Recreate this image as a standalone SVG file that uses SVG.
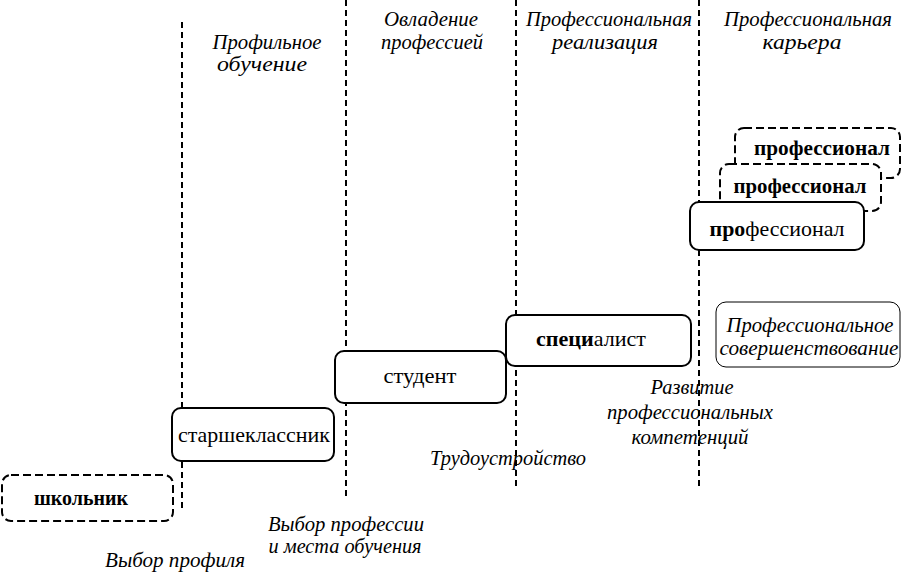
<svg xmlns="http://www.w3.org/2000/svg" width="902" height="572" viewBox="0 0 902 572">
<style>
.lbl{font-style:italic;font-size:21px;fill:#000;text-anchor:middle}
.nt{font-size:22px;fill:#000;text-anchor:middle}
.b{font-weight:bold}
.box{fill:#fff;stroke:#000;stroke-width:2}
.dbox{fill:#fff;stroke:#000;stroke-width:2;stroke-dasharray:8 4}
.thin{fill:#fff;stroke:#000;stroke-width:1}
.vl{stroke:#000;stroke-width:2;stroke-dasharray:6 4;fill:none}
</style>
<rect width="902" height="572" fill="#fff"/>
<g id="connectors">
<line class="vl" x1="182" y1="22" x2="182" y2="512" stroke-width="1.5"/>
<line class="vl" x1="346" y1="0" x2="346" y2="496"/>
<line class="vl" x1="516" y1="0" x2="516" y2="490"/>
<line class="vl" x1="699" y1="0" x2="699" y2="490"/>
</g>
<g id="all-text" font-family="Liberation Serif, Times New Roman, serif">
<g id="headers">
<text class="lbl" font-family="Liberation Serif" x="267" y="49" textLength="109" lengthAdjust="spacingAndGlyphs">Профильное</text>
<text class="lbl" font-family="Liberation Serif" x="262" y="71" textLength="90" lengthAdjust="spacingAndGlyphs">обучение</text>
<text class="lbl" font-family="Liberation Serif" x="431" y="26" textLength="94" lengthAdjust="spacingAndGlyphs">Овладение</text>
<text class="lbl" font-family="Liberation Serif" x="432" y="49" textLength="102" lengthAdjust="spacingAndGlyphs">профессией</text>
<text class="lbl" font-family="Liberation Serif" x="609" y="26" textLength="166" lengthAdjust="spacingAndGlyphs">Профессиональная</text>
<text class="lbl" font-family="Liberation Serif" x="605" y="49" textLength="106" lengthAdjust="spacingAndGlyphs">реализация</text>
<text class="lbl" font-family="Liberation Serif" x="808" y="26" textLength="168" lengthAdjust="spacingAndGlyphs">Профессиональная</text>
<text class="lbl" font-family="Liberation Serif" x="802" y="49" textLength="79" lengthAdjust="spacingAndGlyphs">карьера</text>
</g>
<g id="node-shkolnik">
<rect class="dbox" x="2" y="475" width="171" height="46" rx="9"/>
<text class="nt b" font-family="Liberation Serif" x="81" y="505" textLength="94" lengthAdjust="spacingAndGlyphs">школьник</text>
</g>
<g id="node-starsheklassnik">
<rect class="box" x="172" y="408" width="162" height="53" rx="9"/>
<text class="nt" font-family="Liberation Serif" x="254" y="442" textLength="152" lengthAdjust="spacingAndGlyphs">старшеклассник</text>
</g>
<g id="node-student">
<rect class="box" x="335" y="351" width="171" height="52" rx="9"/>
<text class="nt" font-family="Liberation Serif" x="420" y="383" textLength="73" lengthAdjust="spacingAndGlyphs">студент</text>
</g>
<g id="node-specialist">
<rect class="box" x="506" y="315" width="185" height="51" rx="9"/>
<text class="nt" font-family="Liberation Serif" x="591" y="346" textLength="110" lengthAdjust="spacingAndGlyphs"><tspan class="b">специ</tspan>алист</text>
</g>
<g id="node-professional-3">
<rect class="dbox" x="735" y="128" width="165" height="50" rx="9"/>
<text class="nt b" font-family="Liberation Serif" x="822" y="155" textLength="136" lengthAdjust="spacingAndGlyphs">профессионал</text>
</g>
<g id="node-professional-2">
<rect class="dbox" x="720" y="164" width="161" height="47" rx="9"/>
<text class="nt b" font-family="Liberation Serif" x="800" y="193" textLength="133" lengthAdjust="spacingAndGlyphs">профессионал</text>
</g>
<g id="node-professional-1">
<rect class="box" x="690" y="202" width="174" height="48" rx="9"/>
<text class="nt" font-family="Liberation Serif" x="777" y="236" textLength="135" lengthAdjust="spacingAndGlyphs"><tspan class="b">про</tspan>фессионал</text>
</g>
<g id="node-sovershenstvovanie">
<rect class="thin" x="716" y="302" width="184" height="65" rx="10"/>
<text class="lbl" font-family="Liberation Serif" x="810" y="332" textLength="167" lengthAdjust="spacingAndGlyphs">Профессиональное</text>
<text class="lbl" font-family="Liberation Serif" x="809" y="355" textLength="179" lengthAdjust="spacingAndGlyphs">совершенствование</text>
</g>
<g id="labels">
<text class="lbl" font-family="Liberation Serif" x="692" y="394" textLength="83" lengthAdjust="spacingAndGlyphs">Развитие</text>
<text class="lbl" font-family="Liberation Serif" x="690" y="419" textLength="166" lengthAdjust="spacingAndGlyphs">профессиональных</text>
<text class="lbl" font-family="Liberation Serif" x="690" y="444" textLength="117" lengthAdjust="spacingAndGlyphs">компетенций</text>
<text class="lbl" font-family="Liberation Serif" x="508" y="465" textLength="156" lengthAdjust="spacingAndGlyphs">Трудоустройство</text>
<text class="lbl" font-family="Liberation Serif" x="346" y="531" textLength="156" lengthAdjust="spacingAndGlyphs">Выбор профессии</text>
<text class="lbl" font-family="Liberation Serif" x="345" y="553" textLength="153" lengthAdjust="spacingAndGlyphs">и места обучения</text>
<text class="lbl" font-family="Liberation Serif" x="175" y="567" textLength="140" lengthAdjust="spacingAndGlyphs">Выбор профиля</text>
</g>
</g>
</svg>
